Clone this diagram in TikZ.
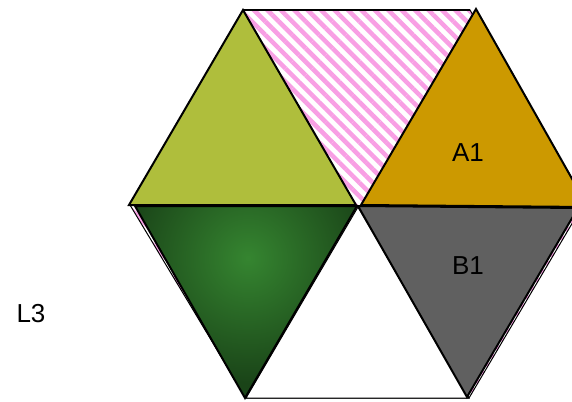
\documentclass[tikz,border=0pt]{standalone}
\usepackage{fontspec}
\setmainfont{Liberation Sans}
\usetikzlibrary{patterns.meta}
\definecolor{stripepink}{HTML}{F89FE4}
\definecolor{limegreen}{HTML}{AFBE3C}
\definecolor{ochre}{HTML}{CC9900}
\definecolor{slate}{HTML}{606060}
\definecolor{dgin}{HTML}{358530}
\definecolor{dgout}{HTML}{1A4418}
\tikzset{
  tri/.style={draw=black, line width=2pt, line join=miter},
  hexbg/.style={draw=black, line width=1pt, pattern={Lines[angle=-45,distance=9.5pt,line width=4.5pt]}, pattern color=stripepink},
  lbl/.style={font=\fontsize{26}{30}\selectfont, text=black, inner sep=0pt}
}
\begin{document}
\begin{tikzpicture}[x=1pt,y=-1pt]
\useasboundingbox (0,0) rectangle (572,401);
% hexagon corners
\coordinate (h1) at (243,10);
\coordinate (h2) at (470,10);
\coordinate (h3) at (583,205);
\coordinate (h4) at (469,398);
\coordinate (h5) at (246,398);
\coordinate (h6) at (130,205);
\fill[white] (h1) -- (h2) -- (h3) -- (h4) -- (h5) -- (h6) -- cycle;
\path[hexbg] (h1) -- (h2) -- (h3) -- (h4) -- (h5) -- (h6) -- cycle;
\draw[line width=2pt] (h1) -- (h2);
% white bottom triangle
\coordinate (w1) at (358,207);
\draw[fill=white, line width=1pt] (w1) -- (h4) -- (h5) -- cycle;
% light green
\coordinate (g1) at (243,10);
\coordinate (g2) at (129,205);
\coordinate (g3) at (356,205);
\draw[tri, fill=limegreen] (g1) -- (g2) -- (g3) -- cycle;
% orange
\coordinate (o1) at (476,9);
\coordinate (o2) at (361,205);
\coordinate (o3) at (588,207);
\draw[tri, fill=ochre] (o1) -- (o2) -- (o3) -- cycle;
% dark green inverted
\coordinate (d1) at (135,206);
\coordinate (d2) at (357,206);
\coordinate (d3) at (245,398);
\begin{scope}
\clip (d1) -- (d2) -- (d3) -- cycle;
\fill[dgout] (d1) -- (d2) -- (d3) -- cycle;
\shade[inner color=dgin, outer color=dgout] (248,258) circle (125);
\end{scope}
\draw[tri] (d1) -- (d2) -- (d3) -- cycle;
% gray inverted
\coordinate (s1) at (358,206);
\coordinate (s2) at (578,208);
\coordinate (s3) at (467,397);
\draw[tri, fill=slate] (s1) -- (s2) -- (s3) -- cycle;
% labels
\node[lbl] (a1) at (468,153) {A1};
\node[lbl] (b1) at (468,266) {B1};
\node[lbl] (l3) at (31,314) {L3};
\end{tikzpicture}
\end{document}
